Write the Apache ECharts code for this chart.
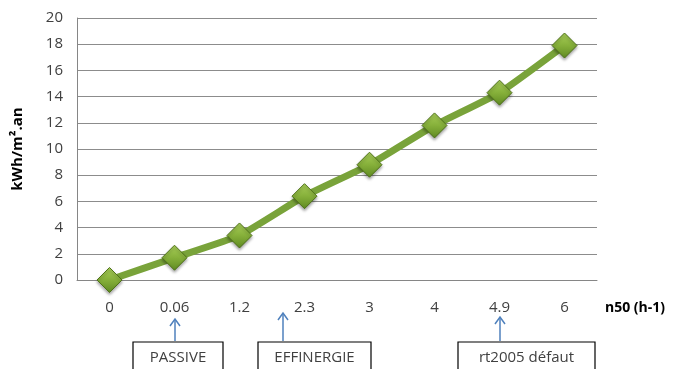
<!DOCTYPE html>
<html>
<head>
<meta charset="utf-8">
<style>
  html, body { margin: 0; padding: 0; background: #fff; }
  #chart { width: 673px; height: 369px; }
</style>
<script src="https://cdn.jsdelivr.net/npm/echarts@6/dist/echarts.min.js"></script>
</head>
<body>
<div id="chart"></div>
<script>
// Air-tightness (n50) vs. heat loss
const categories = ['0', '0.06', '1.2', '2.3', '3', '4', '4.9', '6'];
const values = [0, 1.7, 3.4, 6.4, 8.8, 11.8, 14.3, 17.9];
const yTicks = { min: 0, max: 20, interval: 2 };
const yAxisName = 'kWh/m².an';
const xAxisName = 'n50 (h-1)';
const labels = ['PASSIVE', 'EFFINERGIE', 'rt2005 défaut'];

const FONT = '"Open Sans", "Liberation Sans", sans-serif';
const chart = echarts.init(document.getElementById('chart'), null, { renderer: 'canvas' });

const markerFill = new echarts.graphic.LinearGradient(0, 0, 0, 1, [
  { offset: 0, color: '#a9cf5a' },
  { offset: 0.5, color: '#86b03a' },
  { offset: 1, color: '#5f8a22' }
]);

// Callout box with an arrow pointing up at the axis
function callout(text, boxX, boxW, arrowX, arrowTop) {
  return [
    {
      type: 'line',
      shape: { x1: arrowX, y1: 341, x2: arrowX, y2: arrowTop },
      style: { stroke: '#4f81bd', lineWidth: 1.5 }
    },
    {
      type: 'polyline',
      shape: { points: [[arrowX - 5, arrowTop + 7], [arrowX, arrowTop], [arrowX + 5, arrowTop + 7]] },
      style: { stroke: '#4f81bd', lineWidth: 1.5, fill: null }
    },
    {
      type: 'rect',
      shape: { x: boxX, y: 342, width: boxW, height: 40 },
      style: { fill: '#fff', stroke: '#000', lineWidth: 1.2 }
    },
    {
      type: 'text',
      x: boxX + boxW / 2,
      y: 358,
      style: {
        text: text, font: '15px ' + FONT, fill: '#404040',
        align: 'center', verticalAlign: 'middle'
      }
    }
  ];
}

const option = {
  animation: false,
  backgroundColor: '#fff',
  grid: { left: 77, right: 76, top: 18, bottom: 89 },
  xAxis: {
    type: 'category',
    data: categories,
    boundaryGap: true,
    axisLine: { lineStyle: { color: '#868686', width: 1 } },
    axisTick: { show: false },
    axisLabel: { color: '#404040', fontSize: 15, fontFamily: FONT, margin: 20 },
    splitLine: { show: false }
  },
  yAxis: {
    type: 'value',
    min: yTicks.min, max: yTicks.max, interval: yTicks.interval,
    name: yAxisName,
    nameLocation: 'middle',
    nameGap: 52,
    nameRotate: 90,
    nameTextStyle: { color: '#000', fontSize: 15, fontWeight: 'bold', fontFamily: FONT },
    axisLine: { show: true, lineStyle: { color: '#868686', width: 1 } },
    axisTick: { show: false },
    axisLabel: { color: '#404040', fontSize: 15, fontFamily: FONT, margin: 14 },
    splitLine: { lineStyle: { color: '#8c8c8c', width: 1 } }
  },
  series: [{
    type: 'line',
    data: values,
    smooth: 0.15,
    symbol: 'diamond',
    symbolSize: 25,
    lineStyle: { color: '#79a33a', width: 7 },
    itemStyle: {
      color: markerFill,
      borderColor: '#4f7319',
      borderWidth: 1,
      shadowColor: 'rgba(0,0,0,0.35)',
      shadowBlur: 3,
      shadowOffsetY: 2
    },
    z: 3
  }],
  graphic: [
    {
      type: 'text',
      x: 605, y: 308,
      style: {
        text: xAxisName, font: 'bold 14px ' + FONT, fill: '#000',
        align: 'left', verticalAlign: 'middle'
      }
    },
    ...callout(labels[0], 133, 90, 175, 319),
    ...callout(labels[1], 258, 113, 283, 313),
    ...callout(labels[2], 458, 137, 500, 317)
  ]
};

chart.setOption(option);
</script>
</body>
</html>
